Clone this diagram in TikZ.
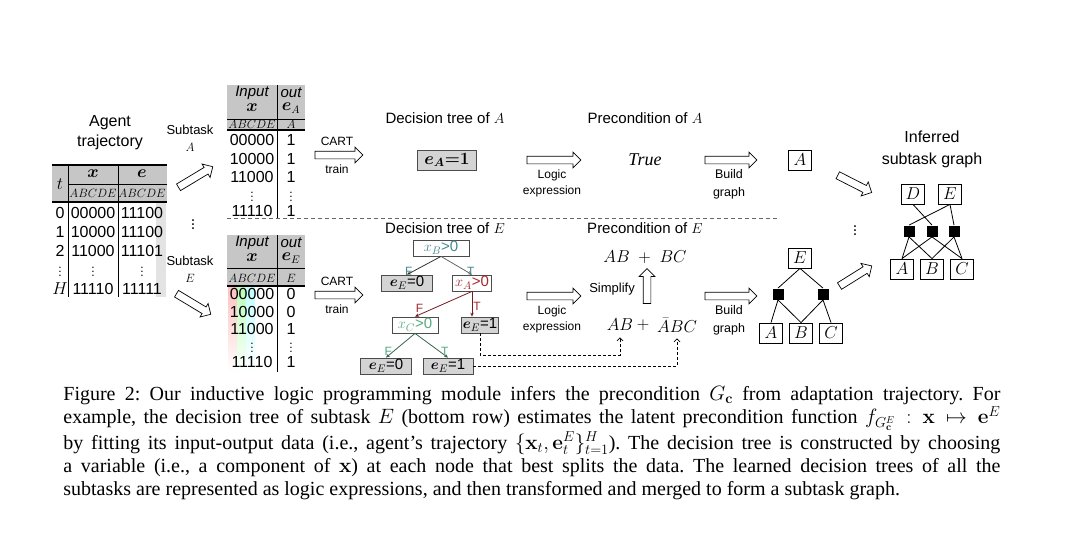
\documentclass[tikz,border=0pt]{standalone}
\usepackage{amsmath, amssymb}
\usepackage[no-math]{fontspec}
\setmainfont{Liberation Sans}
\newfontfamily\capfont{Liberation Serif}
\usetikzlibrary{shapes, arrows.meta, positioning, calc}
\definecolor{hdrgray}{RGB}{198, 198, 198}
\definecolor{leafgray}{RGB}{212, 212, 212}
\definecolor{teal1}{RGB}{70, 135, 145}
\definecolor{red1}{RGB}{165, 40, 45}
\definecolor{green1}{RGB}{85, 170, 125}
\newcommand{\fsz}[1]{\fontsize{#1}{#1}\selectfont}

\begin{document}
\begin{tikzpicture}[x=1pt, y=-1pt, line width=0.8pt,
  lbl/.style={inner sep=0pt, align=center, font=\fsz{14}},
  cell/.style={inner sep=0pt, font=\fsz{16}},
  hdr/.style={inner sep=0pt, font=\fsz{12.5}},
  vdot/.style={inner sep=0pt, font=\fsz{12}},
  hollow/.style={draw, line width=0.7pt, single arrow, single arrow head extend=4pt, inner xsep=0pt, inner ysep=3.5pt, minimum height=48pt},
  dtbox/.style={draw=black!70, fill=white, minimum height=16pt, inner sep=1.5pt, font=\fsz{15}},
  leaf/.style={dtbox, fill=leafgray},
  tedge/.style={-{Stealth[length=4pt, width=3.5pt]}},
  task/.style={draw, minimum width=23pt, minimum height=20pt, inner sep=0pt, font=\fsz{17}},
  andnode/.style={fill=black, minimum size=11pt, inner sep=0pt},
  dashlink/.style={densely dashed, line width=0.7pt, -{Straight Barb[length=3pt]}}
]
\useasboundingbox (0,0) rectangle (1080,554);

% agent trajectory
\node[lbl, font=\fontsize{16}{20}\selectfont] (agent) at (110,133) {Agent\\trajectory};
\fill[hdrgray] (52,165) rectangle (167,202);
\fill[gray!22] (156,202) rectangle (166,297);
\draw[line width=1.3pt] (52,165) -- (167,165);
\draw (68,184) -- (167,184);
\draw[line width=1.3pt] (52,202) -- (167,202);
\draw (68,165) -- (68,297) (118,165) -- (118,297);
\node[cell] (tcol) at (60,184) {$t$};
\node[cell] (xcol) at (93,174) {$\boldsymbol{x}$};
\node[cell] (ecol) at (142,174) {$\boldsymbol{e}$};
\node[hdr] (xabc) at (93,193) {$ABCDE$};
\node[hdr] (eabc) at (142,193) {$ABCDE$};
\foreach \tv/\xv/\ev/\yy in {0/00000/11100/213, 1/10000/11100/232, 2/11000/11101/251}{
  \node[cell] at (60,\yy) {\tv};
  \node[cell] at (93,\yy) {\xv};
  \node[cell] at (142,\yy) {\ev};
}
\foreach \xx in {60,93,142}{
  \node[vdot] at (\xx,269) {$\vdots$};
}
\node[cell] (tH) at (60,289) {$H$};
\node[cell] at (93,289) {11110};
\node[cell] at (142,289) {11111};

% subtask split
\node[lbl, font=\fontsize{13}{17}\selectfont] (subA) at (190,138) {Subtask\\$A$};
\node[hollow, minimum height=40pt, rotate=31] (arrA) at (194,178) {};
\node[font=\fsz{16}, inner sep=0pt] (dotsL) at (193,222) {$\vdots$};
\node[lbl, font=\fontsize{13}{17}\selectfont] (subE) at (190,269) {Subtask\\$E$};
\node[hollow, minimum height=40pt, rotate=-31] (arrE) at (192,303) {};

% table of subtask A
\fill[hdrgray] (227,85) rectangle (305,130);
\draw (227,119) -- (305,119);
\draw[line width=1.3pt] (227,130) -- (305,130);
\draw (277,85) -- (277,218);
\node[cell, font=\itshape\fsz{15}] (inA) at (252,93) {Input};
\node[cell] (inAx) at (252,108) {$\boldsymbol{x}$};
\node[cell, font=\itshape\fsz{15}] (outA) at (291,93) {out};
\node[cell] (outAe) at (291,108) {$\boldsymbol{e}_{A}$};
\node[hdr] at (252,124) {$ABCDE$};
\node[hdr] at (291,124) {$A$};
\foreach \xv/\ov/\yy in {00000/1/140, 10000/1/159, 11000/1/177, 11110/1/211}{
  \node[cell] at (252,\yy) {\xv};
  \node[cell] at (291,\yy) {\ov};
}
\node[vdot] at (252,194) {$\vdots$};
\node[vdot] at (291,194) {$\vdots$};

% table of subtask E
\fill[hdrgray] (227,235) rectangle (305,286);
\shade[top color=red!35, bottom color=white, opacity=0.7] (228,286) rectangle (237,372);
\shade[top color=green!40, bottom color=white, opacity=0.7] (237,286) rectangle (246,372);
\shade[top color=cyan!35, bottom color=white, opacity=0.7] (246,286) rectangle (255,372);
\draw (227,268) -- (305,268);
\draw[line width=1.3pt] (227,286) -- (305,286);
\draw (277,235) -- (277,372);
\node[cell, font=\itshape\fsz{15}] (inE) at (252,243) {Input};
\node[cell] (inEx) at (252,258) {$\boldsymbol{x}$};
\node[cell, font=\itshape\fsz{15}] (outE) at (291,243) {out};
\node[cell] (outEe) at (291,258) {$\boldsymbol{e}_{E}$};
\node[hdr] at (252,278) {$ABCDE$};
\node[hdr] at (291,278) {$E$};
\foreach \xv/\ov/\yy in {00000/0/294, 10000/0/312, 11000/1/329, 11110/1/362}{
  \node[cell] at (252,\yy) {\xv};
  \node[cell] at (291,\yy) {\ov};
}
\node[vdot] at (252,345) {$\vdots$};
\node[vdot] at (291,345) {$\vdots$};

% row separator
\draw[dashed, dash pattern=on 4pt off 3pt, black!60] (227,218) -- (777,218);

% CART
\node[hollow] (cartA) at (337,155) {};
\node[lbl, font=\fsz{12}, above=5pt of cartA] (cartAt) {CART};
\node[lbl, font=\fsz{12}, below=5pt of cartA] (cartAb) {train};
\node[hollow] (cartE) at (337,295) {};
\node[lbl, font=\fsz{12}, above=5pt of cartE] (cartEt) {CART};
\node[lbl, font=\fsz{12}, below=5pt of cartE] (cartEb) {train};

% decision tree of A
\node[lbl, font=\fsz{15}] (dtA) at (445,118) {Decision tree of $A$};
\node[leaf, minimum width=59pt, minimum height=20pt, font=\fsz{17}] (treeA) at (447,160) {$\boldsymbol{e}_{\boldsymbol{A}}{\boldsymbol{=}}\mathbf{1}$};

% decision tree of E
\node[lbl, font=\fsz{15}] (dtE) at (445,228) {Decision tree of $E$};
\node[dtbox, minimum width=56pt, text=teal1] (rootB) at (441,248) {$x_B$>0};
\node[leaf, minimum width=51pt] (eE0a) at (407,283) {$\boldsymbol{e}_E$=0};
\node[dtbox, minimum width=39pt, text=red1] (xA) at (472,283) {$x_A$>0};
\node[dtbox, minimum width=46pt, text=green1] (xC) at (415,325) {$x_C$>0};
\node[leaf, minimum width=35pt] (eE1a) at (480,325) {$\boldsymbol{e}_E$=1};
\node[leaf, minimum width=51pt] (eE0b) at (386,366) {$\boldsymbol{e}_E$=0};
\node[leaf, minimum width=50pt] (eE1b) at (448,366) {$\boldsymbol{e}_E$=1};
\draw[tedge, black!80] (rootB.south) -- (eE0a.north) node[pos=0.8, left=1pt, lbl, font=\fsz{12}, text=teal1] {F};
\draw[tedge, black!60] (rootB.south) -- (xA.north) node[pos=0.8, right=1pt, lbl, font=\fsz{12}, text=teal1] {T};
\draw[tedge, red1!70!black] (xA.south) -- (xC.north) node[pos=0.85, above left=0pt, lbl, font=\fsz{12}, text=red1] {F};
\draw[tedge, red1!70!black] (xA.south) -- (xA.south |- eE1a.north) node[pos=0.6, right=1pt, lbl, font=\fsz{12}, text=red1] {T};
\draw[tedge, green1!60!black] (xC.south) -- (eE0b.north) node[pos=0.75, left=1pt, lbl, font=\fsz{12}, text=green1] {F};
\draw[tedge, green1!60!black] (xC.south) -- (eE1b.north) node[pos=0.75, right=1pt, lbl, font=\fsz{12}, text=green1] {T};

% logic expressions
\node[hollow, minimum height=54pt] (logA) at (552,160) {};
\node[lbl, font=\fontsize{12}{16}\selectfont, below=5pt of logA] (logAt) {Logic\\expression};
\node[hollow, minimum height=54pt] (logE) at (552,296) {};
\node[lbl, font=\fontsize{12}{16}\selectfont, below=5pt of logE] (logEt) {Logic\\expression};

% preconditions
\node[lbl, font=\fsz{15}] (preA) at (645,118) {Precondition of $A$};
\node[lbl, font=\capfont\itshape\fsz{18}] (trueA) at (645,160) {True};
\node[lbl, font=\fsz{15}] (preE) at (645,228) {Precondition of $E$};
\node[lbl, font=\fsz{16}] (simpE) at (645,257) {$AB\;+\;BC$};
\node[hollow, minimum height=35pt, rotate=90] (simp) at (647,288) {};
\node[lbl, font=\fsz{13}] (simpt) at (612,289) {Simplify};
\node[lbl, font=\fsz{16}] (termAB) at (620,325) {$AB$};
\node[lbl, font=\fsz{16}] (termplus) at (643,325) {$+$};
\node[lbl, font=\fsz{16}] (termABC) at (677,325) {$\bar{A}BC$};
\draw[dashlink] (eE1a.south) -- ++(0,22) -| ([yshift=-6pt]termAB.south);
\draw[dashlink] (eE1b.east) -| ([yshift=-6pt]termABC.south);

% build graph
\node[hollow, minimum height=52pt] (bldA) at (729,160) {};
\node[lbl, font=\fontsize{12.5}{18}\selectfont, below=5pt of bldA] (bldAt) {Build\\graph};
\node[hollow, minimum height=52pt] (bldE) at (729,296) {};
\node[lbl, font=\fontsize{12.5}{18}\selectfont, below=5pt of bldE] (bldEt) {Build\\graph};

% graphs of A and E
\node[task] (gA) at (800,160) {$A$};
\node[task] (gE) at (800,258) {$E$};
\node[andnode] (gand1) at (778,294) {};
\node[andnode] (gand2) at (823,294) {};
\node[task] (gEa) at (771,333) {$A$};
\node[task] (gEb) at (801,333) {$B$};
\node[task] (gEc) at (831,333) {$C$};
\draw (gE.south) -- (gand1.north) (gE.south) -- (gand2.north);
\draw (gand1.south) -- (gEa.north) (gand1.south) -- (gEb.north);
\draw (gand2.south) -- (gEb.north) (gand2.south) -- (gEc.north);
\node[font=\fsz{16}, inner sep=0pt] (dotsR) at (855,228) {$\vdots$};

% merge into inferred graph
\node[hollow, minimum height=38pt, rotate=-27] (mrgA) at (853,183) {};
\node[hollow, minimum height=38pt, rotate=32] (mrgE) at (854,277) {};
\node[lbl, font=\fontsize{16}{22}\selectfont] (inf) at (932,149) {Inferred\\subtask graph};
\node[task] (iD) at (913,194) {$D$};
\node[task] (iE) at (950,194) {$E$};
\node[andnode] (iand1) at (909,231) {};
\node[andnode] (iand2) at (932,231) {};
\node[andnode] (iand3) at (954,231) {};
\node[task] (iA) at (902,269) {$A$};
\node[task] (iB) at (932,269) {$B$};
\node[task] (iC) at (962,269) {$C$};
\draw (iD.south) -- (iand2.north) (iE.south) -- (iand1.north) (iE.south) -- (iand3.north);
\draw (iand1.south) -- (iA.north) (iand1.south) -- (iB.north);
\draw (iand2.south) -- (iA.north) (iand2.south) -- (iC.north);
\draw (iand3.south) -- (iB.north) (iand3.south) -- (iC.north);

% caption
\node[anchor=north west, text width=937pt, inner sep=0pt, align=justify, font=\capfont\fontsize{20}{23}\selectfont\frenchspacing] (caption) at (63,386) {Figure 2: Our inductive logic programming module infers the precondition $G_{\mathbf{c}}$ from adaptation trajectory. For\linebreak example, the decision tree of subtask $E$ (bottom row) estimates the latent precondition function $f_{G^E_{\mathbf{c}}} : \mathbf{x} \mapsto \mathbf{e}^E$\linebreak by fitting its input-output data (i.e., agent’s trajectory $\{\mathbf{x}_t, \mathbf{e}^E_t\}^H_{t=1}$). The decision tree is constructed by choosing\linebreak a variable (i.e., a component of $\mathbf{x}$) at each node that best splits the data. The learned decision trees of all the\linebreak subtasks are represented as logic expressions, and then transformed and merged to form a subtask graph.};
\end{tikzpicture}
\end{document}
